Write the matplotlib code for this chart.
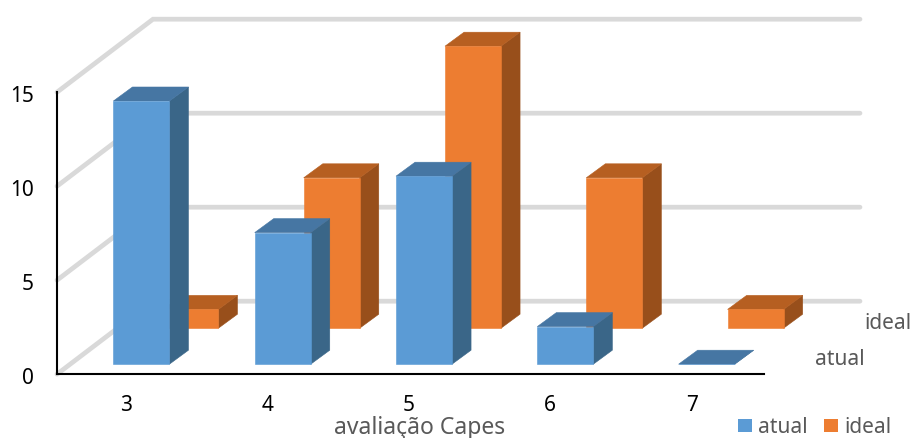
import matplotlib
matplotlib.use('Agg')
import matplotlib.pyplot as plt
from matplotlib.patches import Polygon, Rectangle

categories = ['3', '4', '5', '6', '7']
atual = [14, 7, 10, 2, 0]
ideal = [1, 8, 15, 8, 1]
value_ticks = [0, 5, 10, 15]

plt.rcParams['font.family'] = ['Noto Sans', 'DejaVu Sans']

W, H = 912, 439
fig = plt.figure(figsize=(W / 100, H / 100), dpi=100)
ax = fig.add_axes([0, 0, 1, 1])

# one x unit is a category step, one y unit is one point of the value scale
PX_X = 141.3
PX_Y = 18.8
ORIGIN_X = 141.4
ORIGIN_Y = 375.2
ax.set_xlim(-ORIGIN_X / PX_X, (W - ORIGIN_X) / PX_X)
ax.set_ylim(-(H - ORIGIN_Y) / PX_Y, ORIGIN_Y / PX_Y)
ax.axis('off')

# oblique projection: moving one series backwards shifts right and up
SHEAR_X = 49 / PX_X
SHEAR_Y = 36 / PX_Y
FRONT = -10 / 36
BACK = FRONT + 73 / 36
BAR_W = 56 / PX_X
BAR_D = 14 / 36


def px(x):
    return (x - ORIGIN_X) / PX_X


def py(y):
    return (ORIGIN_Y - y) / PX_Y


def proj(x, v, d):
    return (x + d * SHEAR_X, v + (d - FRONT) * SHEAR_Y)


def draw_bar(x, value, d, colors):
    front, top, side = colors
    x0, x1 = x - BAR_W / 2, x + BAR_W / 2
    faces = [
        ([proj(x1, 0, d), proj(x1, 0, d + BAR_D), proj(x1, value, d + BAR_D), proj(x1, value, d)], side),
        ([proj(x0, value, d), proj(x1, value, d), proj(x1, value, d + BAR_D), proj(x0, value, d + BAR_D)], top),
        ([proj(x0, 0, d), proj(x1, 0, d), proj(x1, value, d), proj(x0, value, d)], front),
    ]
    for pts, c in faces:
        ax.add_patch(Polygon(pts, closed=True, facecolor=c, edgecolor=c, lw=0.4, zorder=3))


# gridlines on the side wall and back wall
x_left = px(57)
x_corner = px(153)
x_right = px(860)
for v in value_ticks:
    y_back = v + (BACK - FRONT) * SHEAR_Y
    ax.plot([x_left, x_corner, x_right], [v, y_back, y_back], color='#d9d9d9', lw=3.4,
            solid_capstyle='round', solid_joinstyle='miter', zorder=1)

# axis lines
ax.plot([x_left, x_left], [0, value_ticks[-1]], color='black', lw=1.5, zorder=2)
ax.plot([x_left, px(764)], [0, 0], color='black', lw=1.5, zorder=2)

blue = ('#5b9bd5', '#4676a3', '#3a6688')
orange = ('#ed7d31', '#b65f21', '#984f1b')

# back series first so the front one covers it
for i, v in enumerate(ideal):
    draw_bar(i, v, 1, orange)
for i, v in enumerate(atual):
    draw_bar(i, v, 0, blue)

for v in value_ticks:
    ax.text(px(34), v - 3 / PX_Y, str(v), ha='right', va='center', fontsize=15, color='black')
for i, c in enumerate(categories):
    ax.text(i - 15 / PX_X, py(406), c, ha='center', va='center', fontsize=15, color='black')

# series names along the depth axis
ax.text(px(911), py(323.5), 'ideal', ha='right', va='center', fontsize=15, color='#595959')
ax.text(px(865), py(360), 'atual', ha='right', va='center', fontsize=15, color='#595959')

ax.text(px(420), py(428), 'avaliação Capes', ha='center', va='center', fontsize=16.5, color='#595959')

# legend
for name, c, left in [('atual', blue[0], 738), ('ideal', orange[0], 824)]:
    ax.add_patch(Rectangle((px(left), py(433)), 14 / PX_X, 13 / PX_Y, facecolor=c, edgecolor='none'))
    ax.text(px(left + 20), py(428), name, ha='left', va='center', fontsize=15, color='#595959')

fig.savefig('out.png', dpi=100)
